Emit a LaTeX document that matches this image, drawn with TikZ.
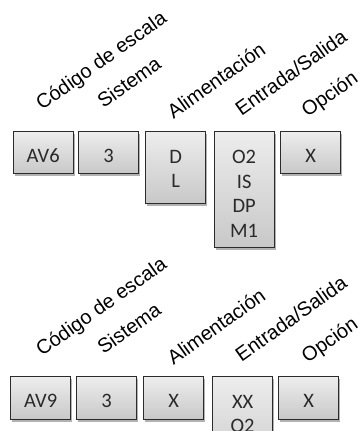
\documentclass[tikz,border=0pt]{standalone}
\usepackage{fontspec}
\newfontfamily\boxfont{Carlito}
\newfontfamily\labfont{Liberation Sans}
\usetikzlibrary{shadows}
\definecolor{boxtop}{HTML}{EDEDED}
\definecolor{boxbot}{HTML}{C8C8C8}
\definecolor{boxline}{HTML}{2B2B2B}
\definecolor{txt}{HTML}{2A2A2A}
\tikzset{
  codebox/.style={draw=boxline, line width=1.3pt, top color=boxtop, bottom color=boxbot,
    anchor=north west, inner sep=0pt, minimum width=60pt,
    drop shadow={shadow xshift=1.5pt, shadow yshift=-2.5pt, opacity=0.3, fill=black}},
  codetxt/.style={font=\boxfont\fontsize{20.5}{24.5}\selectfont, text=txt, align=center, inner sep=0pt},
  lab/.style={font=\labfont\fontsize{20}{22}\selectfont, text=black, rotate=35.5, anchor=base west, inner sep=0pt}
}
\begin{document}
\begin{tikzpicture}[x=1pt,y=1pt]
\useasboundingbox (0,0) rectangle (361,-431);
\clip (0,0) rectangle (361,-431);
% top row labels
\node[lab] (l1) at (42,-111) {Código de escala};
\node[lab] (l2) at (103.5,-109) {Sistema};
\node[lab] (l3) at (173.5,-119.5) {Alimentación};
\node[lab] (l4) at (241.5,-116.5) {Entrada/Salida};
\node[lab] (l5) at (307.5,-118) {Opción};
% top row boxes
\node[codebox, minimum height=42pt] (b1) at (12.5,-131) {};
\node[codebox, minimum height=42pt] (b2) at (78,-131) {};
\node[codebox, minimum height=72pt] (b3) at (145,-131) {};
\node[codebox, minimum height=116pt] (b4) at (213.5,-131) {};
\node[codebox, minimum height=42pt] (b5) at (280,-131) {};
\node[codetxt] (t1) at ([yshift=-3pt]b1.center) {AV6};
\node[codetxt] (t2) at ([yshift=-3pt]b2.center) {3};
\node[codetxt, anchor=north] (t3) at ([yshift=-19pt]b3.north) {D\\L};
\node[codetxt, anchor=north] (t4) at ([yshift=-19pt]b4.north) {O2\\IS\\DP\\M1};
\node[codetxt] (t5) at ([yshift=-3pt]b5.center) {X};
% bottom row labels
\node[lab] (m1) at (42,-357) {Código de escala};
\node[lab] (m2) at (103.5,-355) {Sistema};
\node[lab] (m3) at (173.5,-365.5) {Alimentación};
\node[lab] (m4) at (241.5,-362.5) {Entrada/Salida};
\node[lab] (m5) at (307.5,-364) {Opción};
% bottom row boxes
\node[codebox, minimum height=43pt] (c1) at (10,-376) {};
\node[codebox, minimum height=43pt] (c2) at (76,-376) {};
\node[codebox, minimum height=43pt] (c3) at (143,-376) {};
\node[codebox, minimum height=100pt] (c4) at (212,-376) {};
\node[codebox, minimum height=43pt] (c5) at (278,-376) {};
\node[codetxt] (u1) at ([yshift=-3pt]c1.center) {AV9};
\node[codetxt] (u2) at ([yshift=-3pt]c2.center) {3};
\node[codetxt] (u3) at ([yshift=-3pt]c3.center) {X};
\node[codetxt, anchor=north] (u4) at ([yshift=-19pt]c4.north) {XX\\O2};
\node[codetxt] (u5) at ([yshift=-3pt]c5.center) {X};
\end{tikzpicture}
\end{document}
